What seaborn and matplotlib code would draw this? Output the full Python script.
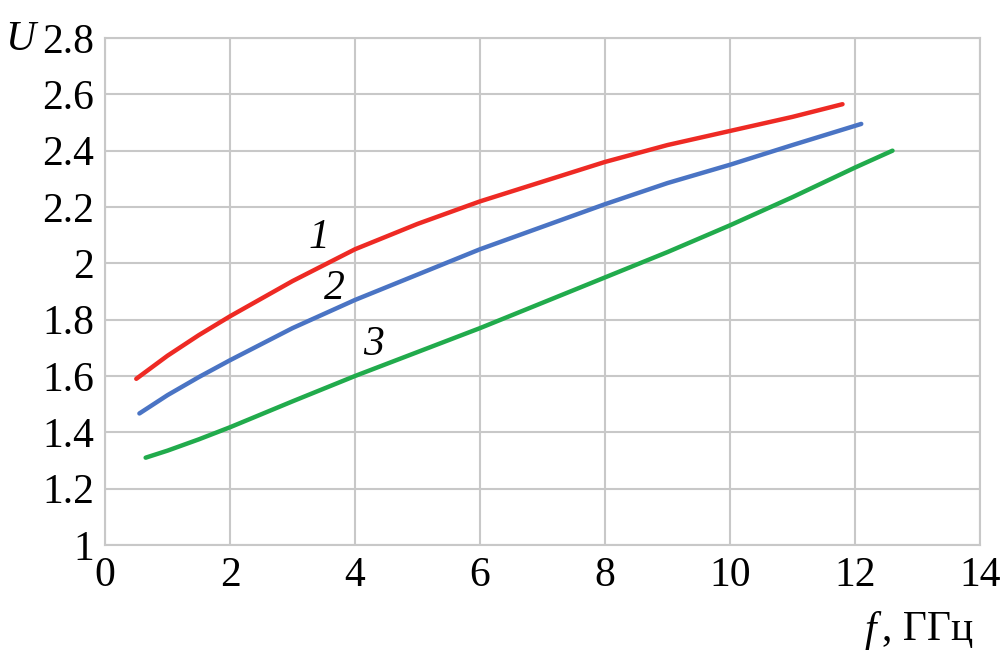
import glob
import numpy as np
import pandas as pd
import matplotlib
matplotlib.use('Agg')
import matplotlib.pyplot as plt
from matplotlib import font_manager
import seaborn as sns

# datos
f1 = [0.5, 1, 1.5, 2, 3, 4, 5, 6, 7, 8, 9, 10, 11, 11.8]
u1 = [1.59, 1.672, 1.745, 1.812, 1.937, 2.05, 2.14, 2.22, 2.29, 2.36, 2.42, 2.47, 2.52, 2.565]
f2 = [0.55, 1, 1.5, 2, 3, 4, 5, 6, 7, 8, 9, 10, 11, 12.1]
u2 = [1.467, 1.532, 1.596, 1.656, 1.77, 1.87, 1.96, 2.05, 2.13, 2.21, 2.285, 2.35, 2.42, 2.495]
f3 = [0.65, 1, 1.5, 2, 3, 4, 5, 6, 7, 8, 9, 10, 11, 12, 12.6]
u3 = [1.31, 1.335, 1.375, 1.418, 1.51, 1.6, 1.685, 1.77, 1.86, 1.95, 2.04, 2.135, 2.235, 2.34, 2.40]
etiquetas = ['1', '2', '3']
colores = ['#ee2a24', '#4a74c4', '#21ab4c']
pos_etiquetas = [(3.42, 2.09), (3.67, 1.91), (4.3, 1.71)]

df = pd.concat([
    pd.DataFrame({'f': f1, 'U': u1, 'curva': '1'}),
    pd.DataFrame({'f': f2, 'U': u2, 'curva': '2'}),
    pd.DataFrame({'f': f3, 'U': u3, 'curva': '3'}),
])

# registrar las fuentes Liberation Serif (no estaban en la cache)
for ruta in glob.glob('/usr/share/fonts/**/LiberationSerif*.ttf', recursive=True):
    font_manager.fontManager.addfont(ruta)

sns.set_style('white')
plt.rcParams['font.family'] = ['Liberation Serif', 'DejaVu Serif']
plt.rcParams['text.color'] = 'black'

fig = plt.figure(figsize=(10.04, 6.61), dpi=100)
ax = fig.add_axes([0.1046, 0.1755, 0.8715, 0.767])

sns.lineplot(data=df, x='f', y='U', hue='curva', palette=colores,
             linewidth=3.2, legend=False, ax=ax, sort=False)

ax.set_xlim(0, 14)
ax.set_ylim(1, 2.8)
ax.set_xticks(range(0, 15, 2))
ax.set_yticks(np.arange(1, 2.81, 0.2))
ax.set_yticklabels(['1', '1.2', '1.4', '1.6', '1.8', '2', '2.2', '2.4', '2.6', '2.8'])
ax.grid(True, color='#c8c8c8', linewidth=1.5)
ax.set_axisbelow(True)
for s in ax.spines.values():
    s.set_color('#c8c8c8')
    s.set_linewidth(1.5)
ax.tick_params(length=0, labelsize=30, pad=8, colors='black')
ax.set_xlabel('')
ax.set_ylabel('')

for lab, (x, y) in zip(etiquetas, pos_etiquetas):
    ax.text(x, y, lab, fontsize=30, style='italic', ha='center', va='center')

fig.text(20 / 1004, 1 - 40 / 661, 'U', fontsize=30, style='italic', ha='center', va='center')

t = fig.text(973 / 1004, 1 - 630 / 661, ', ГГц', fontsize=30, ha='right', va='center')
fig.canvas.draw()
bb = t.get_window_extent()
fig.text((bb.x0 - 6) / fig.bbox.width, 1 - 630 / 661, 'f', fontsize=30, style='italic',
         ha='right', va='center')

fig.savefig('out.png', dpi=100)
